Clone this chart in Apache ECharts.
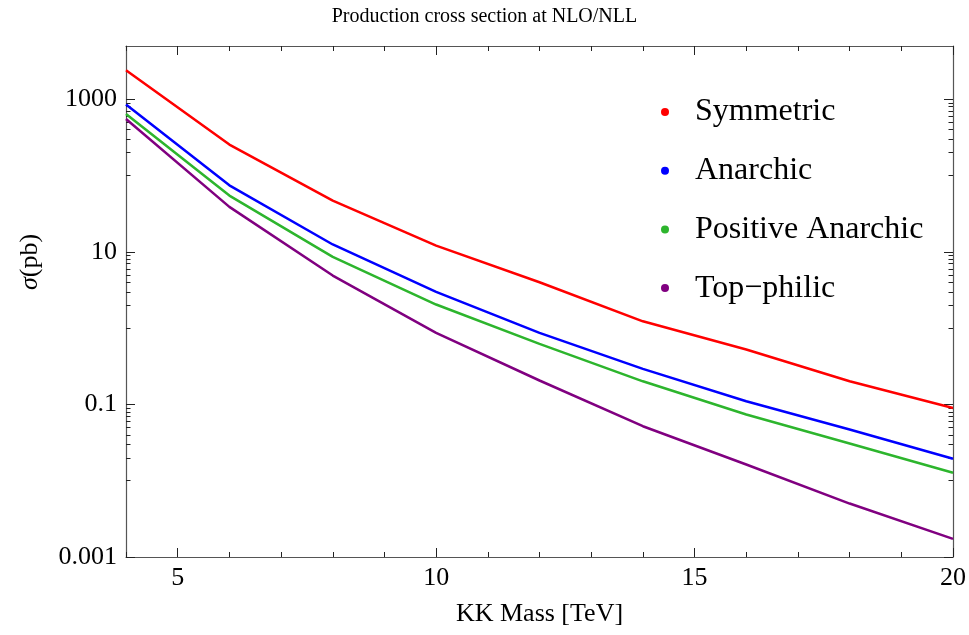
<!DOCTYPE html>
<html>
<head>
<meta charset="utf-8">
<script src="https://cdn.jsdelivr.net/npm/echarts@6/dist/echarts.min.js"></script>
<style>
  html, body { margin: 0; padding: 0; background: #fff; }
  #chart { width: 969px; height: 635px; }
</style>
</head>
<body>
<div id="chart"></div>
<script>
// ---- data ----
const kkMass = [4, 6, 8, 10, 12, 14, 16, 18, 20];
const symmetric        = [2400, 255, 47, 12.1, 4.0, 1.23, 0.525, 0.201, 0.090];
const anarchic         = [853, 74.6, 12.5, 2.99, 0.867, 0.293, 0.110, 0.0469, 0.0194];
const positiveAnarchic = [644, 54.7, 8.6, 2.04, 0.622, 0.201, 0.0738, 0.0308, 0.0127];
const topPhilic        = [553, 38.9, 4.89, 0.867, 0.206, 0.0518, 0.0163, 0.00502, 0.00173];

const seriesNames = ['Symmetric', 'Anarchic', 'Positive Anarchic', 'Top\u2212philic'];

const xMajorTicks = [5, 10, 15, 20];
const xMinorTicks = [4, 6, 7, 8, 9, 11, 12, 13, 14, 16, 17, 18, 19];
const yMajorTicks = [0.001, 0.1, 10, 1000];
const yTickLabels = ['0.001', '0.1', '10', '1000'];
const yMinorTicks = [
  0.01, 0.02, 0.03, 0.04, 0.05, 0.06, 0.07, 0.08, 0.09,
  1, 2, 3, 4, 5, 6, 7, 8, 9,
  100, 200, 300, 400, 500, 600, 700, 800, 900
];

const xMin = 4, xMax = 20, yMin = 0.001, yMax = 5000;

// ---- chart ----
const FONT = 'Liberation Serif';
const frameColor = '#555';
const tickColor = '#222';

function pairs(arr) { return kkMass.map((x, i) => [x, arr[i]]); }

function xAxisDef(position, ticks, len, showLine, labels) {
  return {
    type: 'value', min: xMin, max: xMax, position: position,
    splitLine: { show: false },
    axisLine: { show: showLine, onZero: false, lineStyle: { color: frameColor, width: 1.2 } },
    axisTick: { show: true, inside: true, length: len, customValues: ticks,
                lineStyle: { color: tickColor, width: 1 } },
    axisLabel: labels ? { show: true, customValues: xMajorTicks, fontFamily: FONT, fontSize: 26,
                          color: '#000', margin: 8 } : { show: false }
  };
}
function yAxisDef(position, ticks, len, showLine, labels) {
  return {
    type: 'log', logBase: 10, min: yMin, max: yMax, position: position,
    splitLine: { show: false },
    axisLine: { show: showLine, lineStyle: { color: frameColor, width: 1.2 } },
    axisTick: { show: true, inside: true, length: len, customValues: ticks,
                lineStyle: { color: tickColor, width: 1 } },
    axisLabel: labels ? {
      show: true, customValues: yMajorTicks, fontFamily: FONT, fontSize: 26, color: '#000', margin: 9,
      formatter: function (v) {
        let best = 0, bd = Infinity;
        yMajorTicks.forEach((t, i) => { const d = Math.abs(Math.log10(v) - Math.log10(t)); if (d < bd) { bd = d; best = i; } });
        return yTickLabels[best];
      }
    } : { show: false }
  };
}

const xAxes = [
  xAxisDef('bottom', xMajorTicks, 9, true, true),
  xAxisDef('bottom', xMinorTicks, 5, false, false),
  xAxisDef('top', xMajorTicks, 9, true, false),
  xAxisDef('top', xMinorTicks, 5, false, false)
];
xAxes[0].name = 'KK Mass [TeV]';
xAxes[0].nameLocation = 'middle';
xAxes[0].nameGap = 44;
xAxes[0].nameTextStyle = { fontFamily: FONT, fontSize: 26, color: '#000' };

const yAxes = [
  yAxisDef('left', yMajorTicks, 9, true, true),
  yAxisDef('left', yMinorTicks, 4.5, false, false),
  yAxisDef('right', yMajorTicks, 9, true, false),
  yAxisDef('right', yMinorTicks, 4.5, false, false)
];

const colors = ['#ff0000', '#0000ff', '#2db52d', '#800080'];
const datasets = [symmetric, anarchic, positiveAnarchic, topPhilic];

const chart = echarts.init(document.getElementById('chart'), null, { renderer: 'canvas' });
chart.setOption({
  animation: false,
  backgroundColor: '#fff',
  title: {
    text: 'Production cross section at NLO/NLL',
    left: 'center', top: 2,
    textStyle: { fontFamily: FONT, fontSize: 20, fontWeight: 'normal', color: '#000' }
  },
  grid: { left: 126, right: 16, top: 46, bottom: 78, containLabel: false },
  legend: {
    orient: 'vertical', left: 656, top: 91,
    icon: 'circle', itemWidth: 44, itemHeight: 8, itemGap: 26.7,
    textStyle: { fontFamily: FONT, fontSize: 32, lineHeight: 32, color: '#000', padding: [0, 0, 0, 3] },
    data: seriesNames
  },
  xAxis: xAxes,
  yAxis: yAxes,
  graphic: [{
    type: 'text', x: 30, y: 262, rotation: Math.PI / 2,
    style: {
      text: '{i|\u03c3}(pb)', textAlign: 'center', textVerticalAlign: 'middle',
      fontFamily: FONT, fontSize: 26, fill: '#000',
      rich: { i: { fontFamily: FONT, fontStyle: 'italic', fontSize: 26 } }
    }
  }],
  series: datasets.map((d, i) => ({
    name: seriesNames[i], type: 'line', xAxisIndex: 0, yAxisIndex: 0,
    data: pairs(d), showSymbol: false, symbol: 'circle', symbolSize: 8,
    lineStyle: { color: colors[i], width: 2.5 }, itemStyle: { color: colors[i] },
    z: 3
  }))
});
</script>
</body>
</html>
